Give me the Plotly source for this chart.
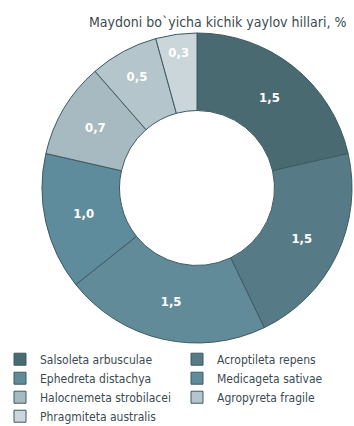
import plotly.graph_objects as go

# Small pasture types by area, %
categories = [
    "Salsoleta arbusculae",
    "Acroptileta repens",
    "Ephedreta distachya",
    "Medicageta sativae",
    "Halocnemeta strobilacei",
    "Agropyreta fragile",
    "Phragmiteta australis",
]
values = [1.5, 1.5, 1.5, 1.0, 0.7, 0.5, 0.3]
colors = ["#4a6a72", "#577b86", "#628b99", "#5e8c9c", "#a8bac1", "#b4c5cb", "#cad6da"]

title_text = "Maydoni bo`yicha kichik yaylov hillari, %"
FONT = "DejaVu Sans Condensed, sans-serif"

labels_text = [f"{v:.1f}".replace(".", ",") for v in values]

W, H = 354, 426
BOTTOM = 83  # space reserved under the donut for the legend
PH = H - BOTTOM

fig = go.Figure(
    go.Pie(
        labels=categories,
        values=values,
        text=labels_text,
        textinfo="text",
        textposition="inside",
        insidetextorientation="horizontal",
        textfont=dict(family=FONT, size=13, color="white", weight="bold"),
        hole=0.5,
        sort=False,
        direction="clockwise",
        rotation=0,
        marker=dict(colors=colors, line=dict(color="#3e5a61", width=1)),
        domain=dict(x=[42 / W, 352 / W], y=[0, 1 - 33 / PH]),
        hoverinfo="label+value",
    )
)

fig.update_layout(
    width=W,
    height=H,
    margin=dict(l=0, r=0, t=0, b=BOTTOM, autoexpand=False),
    paper_bgcolor="white",
    plot_bgcolor="white",
    font=dict(family=FONT, color="#3b4b51"),
    annotations=[
        dict(
            text=title_text,
            x=348 / W,
            y=1 - 22 / PH,
            xref="paper",
            yref="paper",
            xanchor="right",
            yanchor="middle",
            showarrow=False,
            font=dict(family=FONT, size=14, color="#3b4b51"),
        )
    ],
    legend=dict(
        orientation="h",
        x=0.0,
        y=-0.005,
        xanchor="left",
        yanchor="top",
        entrywidth=0.5,
        entrywidthmode="fraction",
        font=dict(family=FONT, size=12, color="#3b4b51"),
        itemwidth=30,
        traceorder="normal",
    ),
)

fig.write_html("out.html")
